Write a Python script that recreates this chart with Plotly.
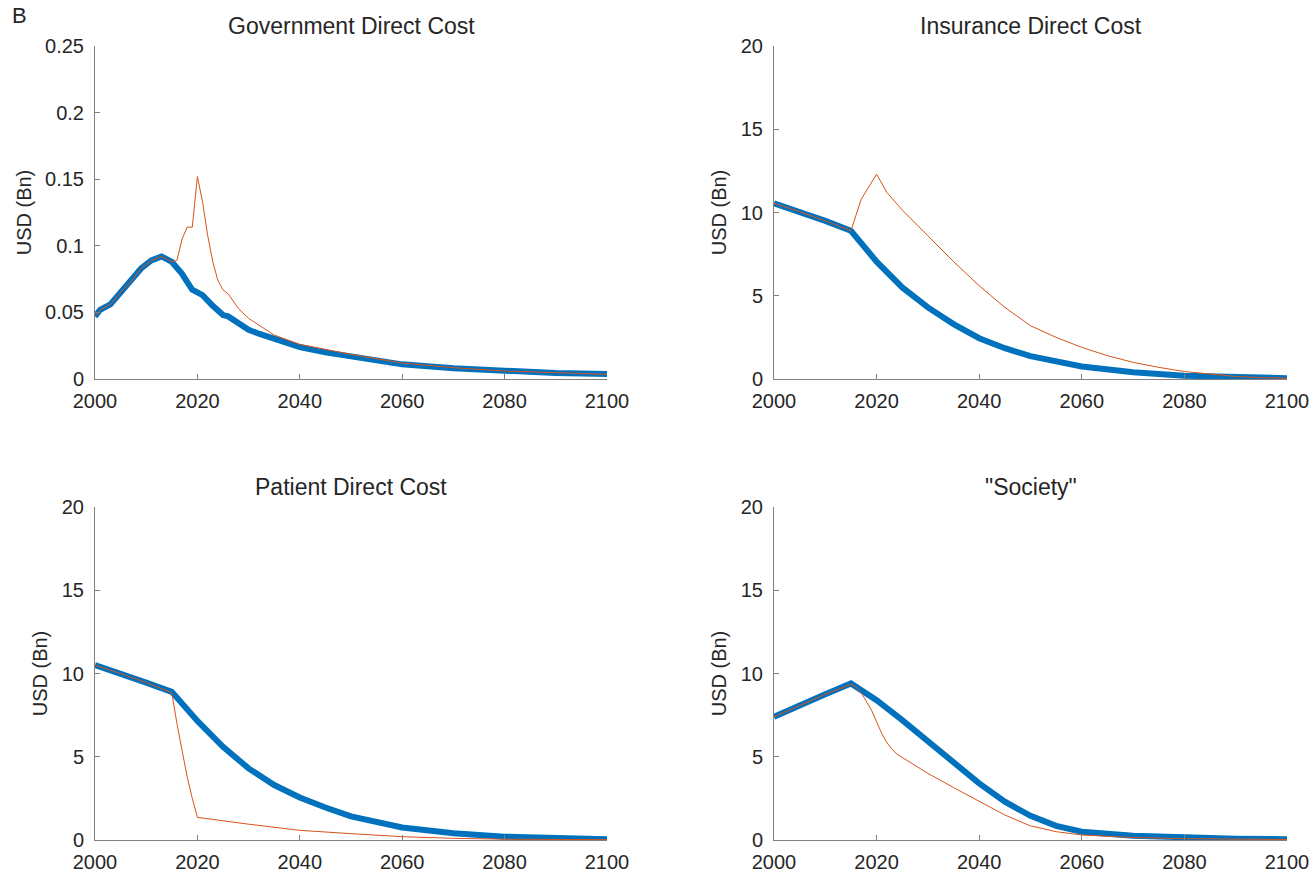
import plotly.graph_objects as go

# ---------------- data ----------------
titles = ["Government Direct Cost", "Insurance Direct Cost", "Patient Direct Cost", "\"Society\""]
y_label = "USD (Bn)"
x_ticks = [2000, 2020, 2040, 2060, 2080, 2100]
gov_ticks = [0, 0.05, 0.1, 0.15, 0.2, 0.25]
gov_tick_text = ["0", "0.05", "0.1", "0.15", "0.2", "0.25"]
other_ticks = [0, 5, 10, 15, 20]

gov_blue_years = [2000, 2001, 2003, 2005, 2007, 2009, 2011, 2013, 2015, 2016, 2017, 2018, 2019, 2020, 2021, 2023,
                  2025, 2026, 2028, 2030, 2032, 2035, 2040, 2045, 2050, 2057, 2060, 2070, 2080, 2090, 2100]
gov_blue = [0.047, 0.052, 0.056, 0.065, 0.073, 0.083, 0.089, 0.092, 0.088, 0.084, 0.079, 0.073, 0.067, 0.065,
            0.063, 0.055, 0.048, 0.047, 0.042, 0.037, 0.034, 0.030, 0.024, 0.020, 0.017, 0.0125, 0.011, 0.008,
            0.006, 0.0045, 0.0037]
gov_red_years = [2000, 2001, 2003, 2005, 2007, 2009, 2011, 2013, 2015, 2016, 2017, 2018, 2019, 2020, 2021, 2022,
                 2023, 2024, 2025, 2026, 2028, 2030, 2031, 2035, 2040, 2045, 2050, 2060, 2070, 2080, 2090, 2100]
gov_red = [0.047, 0.052, 0.056, 0.065, 0.073, 0.083, 0.089, 0.092, 0.088, 0.089, 0.105, 0.114, 0.114, 0.152,
           0.133, 0.108, 0.088, 0.074, 0.067, 0.064, 0.053, 0.0455, 0.043, 0.033, 0.026, 0.022, 0.0185, 0.012,
           0.0085, 0.006, 0.0045, 0.0035]

ins_blue_years = [2000, 2005, 2010, 2015, 2020, 2025, 2030, 2035, 2040, 2045, 2050, 2060, 2070, 2080, 2090, 2100]
ins_blue = [10.55, 10.05, 9.5, 8.9, 7.05, 5.5, 4.3, 3.3, 2.45, 1.85, 1.37, 0.75, 0.4, 0.2, 0.1, 0.05]
ins_red_years = [2000, 2005, 2010, 2015, 2017, 2020, 2022, 2023, 2025, 2030, 2035, 2040, 2045, 2050, 2055, 2060,
                 2065, 2070, 2075, 2080, 2085, 2090, 2095, 2100]
ins_red = [10.55, 10.05, 9.5, 8.9, 10.8, 12.3, 11.2, 10.85, 10.15, 8.6, 7.05, 5.6, 4.3, 3.2, 2.5, 1.9, 1.4, 1.0,
           0.7, 0.45, 0.28, 0.15, 0.08, 0.05]

pat_blue_years = [2000, 2005, 2010, 2015, 2020, 2025, 2030, 2035, 2040, 2045, 2050, 2060, 2070, 2080, 2090, 2100]
pat_blue = [10.5, 10.0, 9.45, 8.9, 7.15, 5.6, 4.3, 3.3, 2.55, 1.95, 1.42, 0.75, 0.4, 0.2, 0.1, 0.05]
pat_red_years = [2000, 2005, 2010, 2015, 2016, 2017, 2018, 2019, 2020, 2030, 2040, 2050, 2060, 2070, 2080, 2100]
pat_red = [10.5, 10.0, 9.45, 8.85, 7.0, 5.3, 3.8, 2.5, 1.36, 0.95, 0.58, 0.38, 0.2, 0.1, 0.05, 0.02]

soc_blue_years = [2000, 2005, 2010, 2015, 2020, 2025, 2030, 2035, 2040, 2045, 2050, 2055, 2060, 2070, 2080,
                  2090, 2100]
soc_blue = [7.4, 8.1, 8.75, 9.4, 8.4, 7.2, 5.9, 4.6, 3.4, 2.3, 1.45, 0.85, 0.5, 0.25, 0.12, 0.08, 0.05]
soc_red_years = [2000, 2005, 2010, 2015, 2016, 2017, 2018, 2019, 2020, 2021, 2022, 2023, 2024, 2025, 2030, 2035,
                 2040, 2045, 2050, 2055, 2060, 2070, 2080, 2100]
soc_red = [7.4, 8.1, 8.75, 9.35, 9.2, 8.85, 8.35, 7.8, 7.1, 6.4, 5.85, 5.45, 5.15, 4.95, 4.0, 3.15, 2.3, 1.5,
           0.85, 0.5, 0.3, 0.15, 0.08, 0.03]

BLUE = "#0072BD"
RED = "#D95319"
AXC = "#808080"
TXT = "#262626"
FONT = "Liberation Sans, Arial, Helvetica, sans-serif"
TICK_SIZE = 20
TITLE_SIZE = 23
YLAB_SIZE = 20

W, H = 1314, 874

def px_dom(a, b, total):
    return [a / total, b / total]

def py_dom(top, bottom):
    return [1 - bottom / H, 1 - top / H]

panels = [
    (gov_blue_years, gov_blue, gov_red_years, gov_red, px_dom(95, 607, W), py_dom(46, 379), [0, 0.25], gov_ticks, gov_tick_text),
    (ins_blue_years, ins_blue, ins_red_years, ins_red, px_dom(774, 1287, W), py_dom(46, 379), [0, 20], other_ticks, [str(t) for t in other_ticks]),
    (pat_blue_years, pat_blue, pat_red_years, pat_red, px_dom(95, 607, W), py_dom(507, 840), [0, 20], other_ticks, [str(t) for t in other_ticks]),
    (soc_blue_years, soc_blue, soc_red_years, soc_red, px_dom(774, 1287, W), py_dom(507, 840), [0, 20], other_ticks, [str(t) for t in other_ticks]),
]

fig = go.Figure()
layout = dict(
    width=W, height=H,
    margin=dict(l=0, r=0, t=0, b=0),
    paper_bgcolor="white", plot_bgcolor="white",
    showlegend=False,
    font=dict(family=FONT, size=TICK_SIZE, color=TXT),
)
annotations = []
for i, (bx, by, rx, ry, xd, yd, yr, yt, ytt) in enumerate(panels):
    n = "" if i == 0 else str(i + 1)
    xa = "x" + n
    ya = "y" + n
    fig.add_trace(go.Scatter(x=bx, y=by, mode="lines", line=dict(color=BLUE, width=6),
                             xaxis=xa, yaxis=ya, hoverinfo="skip"))
    fig.add_trace(go.Scatter(x=rx, y=ry, mode="lines", line=dict(color=RED, width=1),
                             xaxis=xa, yaxis=ya, hoverinfo="skip"))
    layout["xaxis" + n] = dict(domain=xd, anchor=ya, range=[2000, 2100], tickvals=x_ticks,
                               ticks="inside", ticklen=5, tickcolor=AXC, showline=True, linecolor=AXC,
                               linewidth=1, showgrid=False, zeroline=False, automargin=False,
                               ticklabelstandoff=4,
                               tickfont=dict(size=TICK_SIZE, color=TXT, family=FONT))
    layout["yaxis" + n] = dict(domain=yd, anchor=xa, range=yr, tickvals=yt, ticktext=ytt,
                               ticks="inside", ticklen=5, tickcolor=AXC, showline=True, linecolor=AXC,
                               linewidth=1, showgrid=False, zeroline=False, automargin=False,
                               ticklabelstandoff=6,
                               title=dict(text=y_label, font=dict(size=YLAB_SIZE, color=TXT, family=FONT), standoff=8),
                               tickfont=dict(size=TICK_SIZE, color=TXT, family=FONT))
    annotations.append(dict(text=titles[i], xref="paper", yref="paper",
                            x=(xd[0] + xd[1]) / 2, y=yd[1], yshift=5, xanchor="center", yanchor="bottom",
                            showarrow=False, font=dict(size=TITLE_SIZE, color=TXT, family=FONT)))

annotations.append(dict(text="B", xref="paper", yref="paper", x=10 / W, y=1 - 1 / H,
                        xanchor="left", yanchor="top", showarrow=False,
                        font=dict(size=22, color=TXT, family=FONT)))
layout["annotations"] = annotations
fig.update_layout(**layout)
fig.write_html("out.html", config={"displayModeBar": False},
               post_script="document.body.style.margin='0';document.body.style.overflow='hidden';")
